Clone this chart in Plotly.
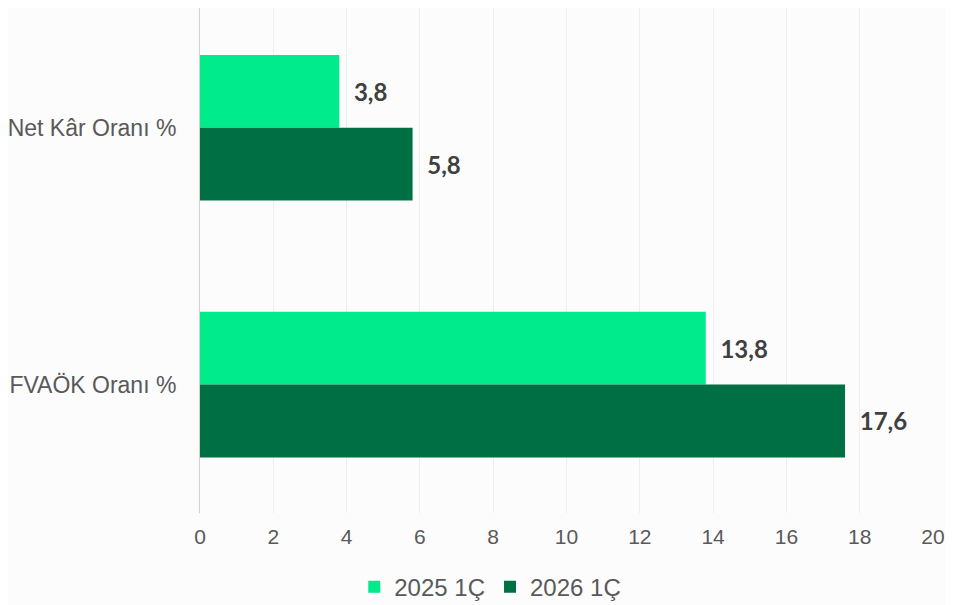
import plotly.graph_objects as go

categories = ["Net Kâr Oranı %", "FVAÖK Oranı %"]
series_names = ["2025 1Ç", "2026 1Ç"]
values_2025 = [3.8, 13.8]
values_2026 = [5.8, 17.6]
x_ticks = [0, 2, 4, 6, 8, 10, 12, 14, 16, 18, 20]

colors = ["#00EB8B", "#007044"]
bg = "#FCFCFC"


def fmt(v):
    # Turkish decimal comma, pushed off the bar end a little
    return "\u00a0\u00a0" + f"{v:.1f}".replace(".", ",")


fig = go.Figure()
for name, vals, col in zip(series_names, [values_2025, values_2026], colors):
    fig.add_trace(go.Bar(
        y=categories, x=vals, name=name, orientation="h",
        marker=dict(color=col, line=dict(width=0)),
        text=[fmt(v) for v in vals], textposition="outside",
        textfont=dict(family="Lato", size=24, color="#404040", weight="bold"),
        cliponaxis=False,
    ))

# page body keeps an 8px margin, so size the figure to the visible area
fig.update_layout(
    width=937, height=597,
    paper_bgcolor=bg, plot_bgcolor=bg,
    margin=dict(l=192, r=12, t=0, b=92, autoexpand=False),
    barmode="group", bargap=0.433, bargroupgap=0,
    font=dict(family="Liberation Sans", size=21, color="#595959"),
    legend=dict(orientation="h", x=0.396, xanchor="center", y=-0.147, yanchor="middle",
                font=dict(size=24, color="#595959")),
    showlegend=True,
)
fig.update_xaxes(
    range=[0, 20], tickvals=x_ticks, showgrid=True, gridcolor="#EEEEEE", gridwidth=1,
    zeroline=False, showline=False, ticks="outside", ticklen=5, tickcolor=bg,
    tickfont=dict(size=21, color="#595959"),
)
fig.update_yaxes(
    range=[1.5, -0.466], showgrid=False, showline=True, linecolor="#D0D0D0", linewidth=1,
    ticklabelstandoff=18, tickfont=dict(size=23, color="#595959"),
)

fig.write_html("out.html")
